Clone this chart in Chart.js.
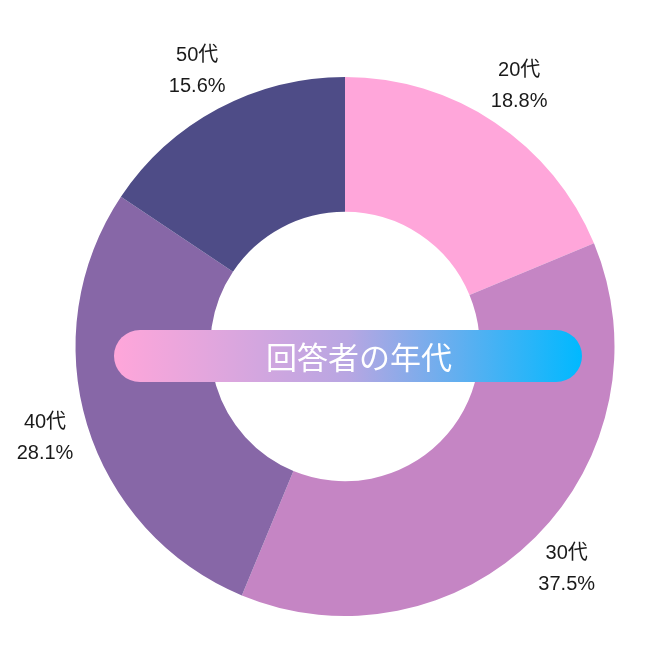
<!DOCTYPE html>
<html>
<head>
<meta charset="utf-8">
<script src="https://cdn.jsdelivr.net/npm/chart.js@4"></script>
<style>
  html, body { margin: 0; padding: 0; background: #fff; }
  #wrap { width: 659px; height: 659px; }
</style>
</head>
<body>
<div id="wrap"><canvas id="ageChart" width="659" height="659"></canvas></div>
<script>
const ageLabels = ['20代', '30代', '40代', '50代'];
const ageCounts = [6, 12, 9, 5];
const ageColors = ['#FFA6DA', '#C585C4', '#8767A7', '#4E4C87'];
const bannerTitle = '回答者の年代';

// outside labels: name + percent
const outsideLabels = {
    id: 'outsideLabels',
    afterDatasetsDraw(chart) {
        const ctx = chart.ctx;
        const meta = chart.getDatasetMeta(0);
        const total = ageCounts.reduce((a, b) => a + b, 0);
        ctx.save();
        ctx.fillStyle = '#1a1a1a';
        ctx.font = '20px "Liberation Sans", "Noto Sans CJK JP", sans-serif';
        ctx.textAlign = 'center';
        ctx.textBaseline = 'middle';
        meta.data.forEach((arc, i) => {
            const mid = (arc.startAngle + arc.endAngle) / 2;
            const r = arc.outerRadius + 44;
            const x = arc.x + Math.cos(mid) * r;
            const y = arc.y + Math.sin(mid) * r;
            const pct = (ageCounts[i] / total * 100).toFixed(1) + '%';
            ctx.fillText(ageLabels[i], x, y - 15);
            ctx.fillText(pct, x, y + 16);
        });
        ctx.restore();
    }
};

// gradient title banner across the middle
const titleBanner = {
    id: 'titleBanner',
    afterDraw(chart) {
        const ctx = chart.ctx;
        const x0 = 114, x1 = 582, y0 = 330, h = 52;
        const grad = ctx.createLinearGradient(x0, 0, x1, 0);
        grad.addColorStop(0, '#FFA6DA');
        grad.addColorStop(0.5, '#B8A6E2');
        grad.addColorStop(1, '#00B9FF');
        ctx.save();
        ctx.fillStyle = grad;
        ctx.beginPath();
        ctx.roundRect(x0, y0, x1 - x0, h, h / 2);
        ctx.fill();
        ctx.fillStyle = '#ffffff';
        ctx.font = '400 31px "Noto Sans CJK JP", sans-serif';
        ctx.textAlign = 'center';
        ctx.textBaseline = 'middle';
        ctx.fillText(bannerTitle, 359, y0 + h / 2 + 1);
        ctx.restore();
    }
};

new Chart(document.getElementById('ageChart'), {
    type: 'doughnut',
    data: {
        labels: ageLabels,
        datasets: [{
            data: ageCounts,
            backgroundColor: ageColors,
            borderWidth: 0
        }]
    },
    options: {
        responsive: false,
        animation: false,
        cutout: '50%',
        layout: { padding: { top: 77, bottom: 43, left: 75, right: 44 } },
        plugins: {
            legend: { display: false },
            tooltip: { enabled: false }
        }
    },
    plugins: [outsideLabels, titleBanner]
});
</script>
</body>
</html>
